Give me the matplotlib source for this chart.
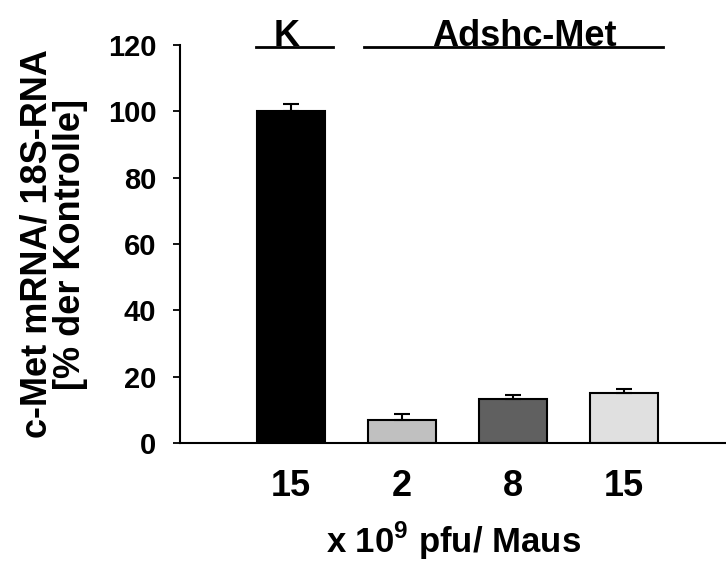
import matplotlib
matplotlib.use('Agg')
import matplotlib.pyplot as plt
import matplotlib.transforms as mtransforms

plt.rcParams['font.family'] = ['Liberation Sans', 'DejaVu Sans']
plt.rcParams['font.weight'] = 'bold'
plt.rcParams['mathtext.fontset'] = 'custom'
plt.rcParams['mathtext.bf'] = 'Liberation Sans:bold'
plt.rcParams['mathtext.rm'] = 'Liberation Sans:bold'

# data
dose_labels = ['15', '2', '8', '15']
values = [100.0, 6.9, 13.2, 15.1]
errors = [2.3, 2.0, 1.3, 1.2]
colors = ['#000000', '#c0c0c0', '#606060', '#e0e0e0']
y_ticks = [0, 20, 40, 60, 80, 100, 120]
# name, line start, line end, text centre (in bar positions)
groups = [('K', -0.32, 0.38, -0.04), ('Adshc-Met', 0.66, 3.35, 2.1)]

fig = plt.figure(figsize=(7.26, 5.63), dpi=100)
ax = fig.add_axes([0.248, 0.213, 0.752, 0.707])

x = list(range(len(values)))
ax.bar(x, values, width=0.61, color=colors, edgecolor='black', linewidth=1.5,
       yerr=[[0] * len(errors), errors], capsize=6,
       error_kw={'elinewidth': 1.5, 'capthick': 1.5, 'ecolor': 'black'})

ax.set_xlim(-1.0, 3.92)
ax.set_ylim(0, 120)
ax.set_yticks(y_ticks)
ax.set_yticklabels([str(t) for t in y_ticks], fontsize=21, fontweight='bold')
ax.set_xticks(x)
ax.set_xticklabels(dose_labels, fontsize=26, fontweight='bold')
ax.tick_params(axis='x', length=0, pad=19)
ax.tick_params(axis='y', length=5, width=1.3, direction='out', pad=12)
for side in ['top', 'right']:
    ax.spines[side].set_visible(False)
for side in ['left', 'bottom']:
    ax.spines[side].set_linewidth(1.5)

ax.set_ylabel('c-Met mRNA/ 18S-RNA\n[% der Kontrolle]', fontsize=26,
              fontweight='bold', labelpad=14, linespacing=0.95)
ax.set_xlabel('x 10$^{\\mathbf{9}}$ pfu/ Maus', fontsize=25, fontweight='bold',
              labelpad=11)

# group labels with lines at the top
trans = mtransforms.blended_transform_factory(ax.transData, ax.transAxes)
for name, x0, x1, xc in groups:
    ax.plot([x0, x1], [0.994, 0.994], color='black', linewidth=2,
            transform=trans, clip_on=False)
    ax.text(xc, 0.998, name, transform=trans, ha='center',
            va='baseline', fontsize=26, fontweight='bold')

fig.savefig('out.png', dpi=100)
